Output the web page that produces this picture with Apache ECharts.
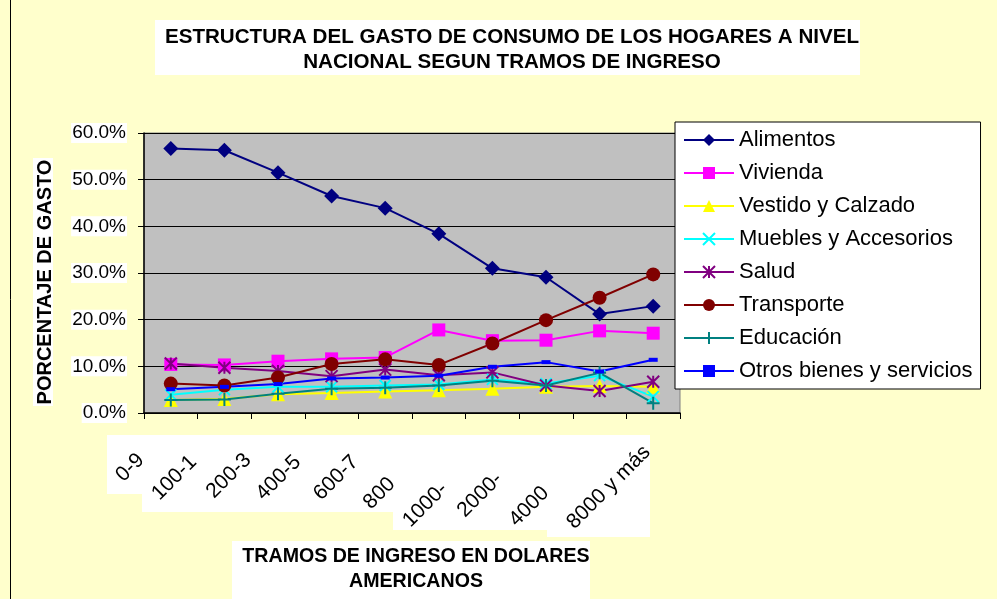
<!DOCTYPE html>
<html>
<head>
<meta charset="utf-8">
<script src="https://cdn.jsdelivr.net/npm/echarts@6/dist/echarts.min.js"></script>
<style>
html,body{margin:0;padding:0;background:#FFFFCC;}
#chart{width:997px;height:599px;}
</style>
</head>
<body>
<div id="chart"></div>
<script>
// income brackets (US$)
var categories = ['0-99', '100-199', '200-399', '400-599', '600-799', '800-999', '1000-1999', '2000-3999', '4000-7999', '8000 y más'];
// how many characters of each label are visible (the original clips them)
var shownChars = [3, 5, 5, 5, 5, 3, 5, 5, 4, 10];

// share of spending, %
var alimentos  = [56.7, 56.3, 51.5, 46.5, 43.9, 38.4, 31.0, 29.1, 21.2, 22.9];
var vivienda   = [10.4, 10.3, 11.1, 11.6, 11.9, 17.8, 15.5, 15.6, 17.6, 17.1];
var vestido    = [2.8, 3.0, 4.0, 4.3, 4.6, 4.9, 5.2, 5.6, 5.8, 5.6];
var muebles    = [3.9, 5.0, 5.6, 5.6, 5.9, 6.1, 7.2, 6.3, 8.0, 3.5];
var salud      = [10.6, 9.7, 9.0, 7.9, 9.3, 8.1, 8.7, 5.9, 4.7, 6.7];
var transporte = [6.3, 5.9, 7.6, 10.5, 11.5, 10.3, 14.9, 19.9, 24.7, 29.7];
var educacion  = [2.8, 2.9, 4.1, 5.2, 5.4, 5.9, 6.9, 5.9, 8.6, 2.1];
var otros      = [5.1, 5.6, 6.2, 7.4, 7.6, 8.0, 9.9, 10.9, 8.9, 11.4];

var yTicks = [0, 10, 20, 30, 40, 50, 60];

var chart = echarts.init(document.getElementById('chart'));

var FONT = 'Liberation Sans, Arial, sans-serif';

// where each clipped label sits, relative to its category center / axis line
var labelShift = [[-30, 44], [-31, 46], [-30, 44], [-34, 46], [-30, 46], [-47, 68], [-48, 73], [-47, 63], [-54, 77], [-6, 36]];
var labelMargin = 10;
var rich = {};
labelShift.forEach(function (s, i) {
    var a = s[1] - labelMargin, b = s[0];
    var p = (a - b) / 1.414, q = (a + b) / 1.414;
    rich['l' + i] = {fontSize: 21, fontFamily: FONT, color: '#000', padding: [Math.max(0, 2 * q), Math.max(0, p), 0, 0]};
});

var X = 'path://M0,0L10,10M10,0L0,10';
var STAR = 'path://M0,0L10,10M10,0L0,10M5,0L5,10';
var PLUS = 'path://M5,0L5,10M0,5L10,5';

function mk(name, data, color, symbol, size, stroke) {
    return {
        name: name,
        type: 'line',
        data: data,
        symbol: symbol,
        symbolSize: size,
        lineStyle: {color: color, width: 2},
        itemStyle: {color: color, borderColor: color, borderWidth: stroke ? 2 : 0},
        z: 3
    };
}

var option = {
    backgroundColor: '#FFFFCC',
    animation: false,
    textStyle: {fontFamily: FONT},
    title: [
        {
            text: 'ESTRUCTURA DEL GASTO DE CONSUMO DE LOS HOGARES A NIVEL\nNACIONAL SEGUN TRAMOS DE INGRESO',
            left: 507, top: 20, textAlign: 'center',
            textStyle: {fontSize: 20.6, fontWeight: 'bold', color: '#000', lineHeight: 25, fontFamily: FONT}
        },
        {
            text: 'TRAMOS DE INGRESO EN DOLARES\nAMERICANOS',
            left: 411, top: 539, textAlign: 'center',
            textStyle: {fontSize: 19.6, fontWeight: 'bold', color: '#000', lineHeight: 25, fontFamily: FONT}
        }
    ],
    graphic: [
        {type: 'rect', z: -1, shape: {x: 10.5, y: -5, width: 1000, height: 620}, style: {fill: 'none', stroke: '#000', lineWidth: 1}},
        {type: 'rect', z: -1, shape: {x: 155, y: 20, width: 705, height: 55}, style: {fill: '#fff'}},
        {type: 'rect', z: -1, shape: {x: 232, y: 541, width: 358, height: 60}, style: {fill: '#fff'}},
        {type: 'rect', z: -1, shape: {x: 33, y: 158, width: 20, height: 248}, style: {fill: '#fff'}},
        {type: 'rect', z: -1, shape: {x: 107, y: 435, width: 35, height: 59}, style: {fill: '#fff'}},
        {type: 'rect', z: -1, shape: {x: 142, y: 435, width: 251, height: 77}, style: {fill: '#fff'}},
        {type: 'rect', z: -1, shape: {x: 393, y: 435, width: 154, height: 95}, style: {fill: '#fff'}},
        {type: 'rect', z: -1, shape: {x: 547, y: 435, width: 103, height: 102}, style: {fill: '#fff'}}
    ],
    legend: {
        orient: 'vertical',
        left: 675, top: 122,
        padding: [6, 8, 6, 8],
        backgroundColor: '#fff',
        borderColor: '#000',
        borderWidth: 1,
        borderRadius: 0,
        itemWidth: 50,
        itemHeight: 15,
        itemGap: 9,
        textStyle: {fontSize: 22, color: '#000', lineHeight: 24, fontFamily: FONT}
    },
    grid: {
        left: 144, top: 133, width: 536, height: 280,
        show: true, backgroundColor: '#C0C0C0', borderColor: '#808080', borderWidth: 1
    },
    xAxis: {
        type: 'category',
        data: categories,
        boundaryGap: true,
        z: 5,
        axisLine: {lineStyle: {color: '#000', width: 1.5}},
        axisTick: {show: true, inside: false, length: 6, lineStyle: {color: '#000'}},
        axisLabel: {
            interval: 0, rotate: 45, margin: labelMargin,
            formatter: function (v, i) { return '{l' + i + '|' + v.slice(0, shownChars[i]) + '}'; },
            rich: rich
        },
        splitLine: {show: false}
    },
    yAxis: {
        type: 'value',
        min: yTicks[0], max: yTicks[yTicks.length - 1], interval: 10,
        name: 'PORCENTAJE DE GASTO',
        nameLocation: 'middle',
        nameGap: 89,
        nameRotate: 90,
        nameTextStyle: {fontSize: 20, fontWeight: 'bold', color: '#000', padding: [0, 18, 0, 0], fontFamily: FONT},
        axisLine: {show: true, lineStyle: {color: '#000', width: 1.5}},
        axisTick: {show: true, length: 6, lineStyle: {color: '#000'}},
        axisLabel: {
            margin: 17, fontSize: 19, color: '#000', backgroundColor: '#fff', padding: [1, 1, 0, 1], fontFamily: FONT,
            formatter: function (v) { return v.toFixed(1) + '%'; }
        },
        splitLine: {show: true, lineStyle: {color: '#000', width: 1}}
    },
    series: [
        mk('Alimentos', alimentos, '#000080', 'diamond', 15, false),
        mk('Vivienda', vivienda, '#FF00FF', 'rect', 13, false),
        mk('Vestido y Calzado', vestido, '#FFFF00', 'triangle', 14, false),
        mk('Muebles y Accesorios', muebles, '#00FFFF', X, 11, true),
        mk('Salud', salud, '#800080', STAR, 12, true),
        mk('Transporte', transporte, '#800000', 'circle', 14, false),
        mk('Educación', educacion, '#008080', PLUS, 13, true),
        mk('Otros bienes y servicios', otros, '#0000FF', 'rect', [9, 4], false)
    ]
};

chart.setOption(option);
</script>
</body>
</html>
